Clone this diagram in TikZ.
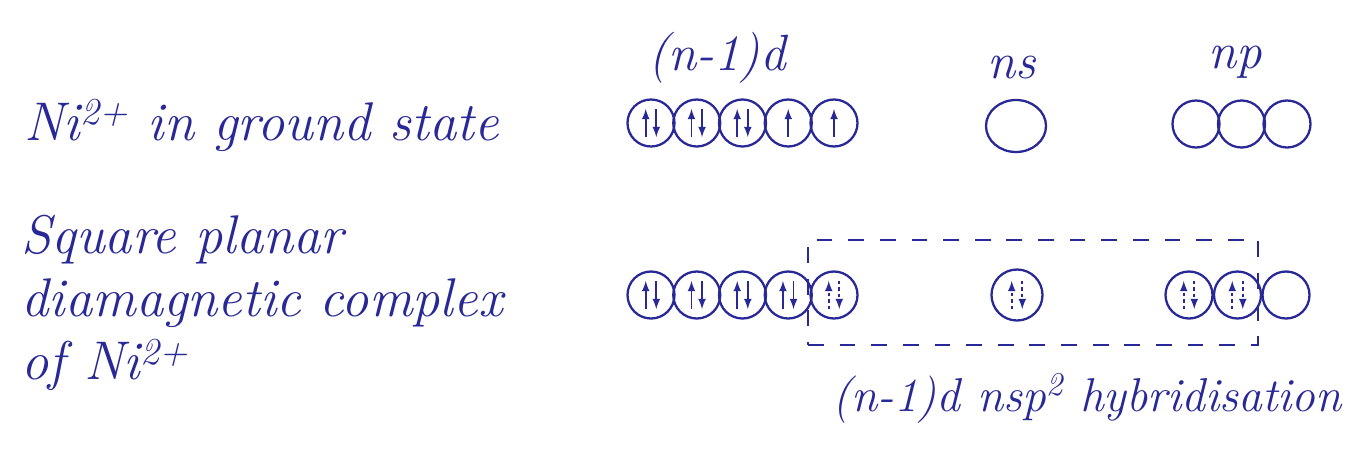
\documentclass[tikz,border=0pt]{standalone}
\usetikzlibrary{positioning,shapes.geometric}
\definecolor{ink}{RGB}{40,40,150}
\begin{document}
\begin{tikzpicture}[>=latex, line width=1pt, draw=ink,
  every node/.style={font=\fontsize{29}{34}\selectfont\itshape, text=ink},
  side/.style={font=\fontsize{31}{36}\selectfont\itshape},
  orb/.style={draw=ink, line width=1.3pt, circle, minimum size=0.94cm, inner sep=0pt},
  sorb/.style={orb, ellipse, minimum width=1.2cm, minimum height=1.04cm},
  lig/.style={dash pattern=on 2pt off 1.6pt}]
  \useasboundingbox (0,0) rectangle (27.14,9.14);
  % Ni2+ ground state
  \node[side, anchor=base west] (gs) at (0.35,6.34) {Ni\textsuperscript{2+} in ground state};
  \node (dlab) at (14.34,7.98) {(n-1)d};
  \node (slab) at (20.24,7.78) {ns};
  \node (plab) at (24.7,7.9) {np};
  \foreach \i in {1,...,5}
    \node[orb] (g\i) at ({12.105+0.915*\i},6.68) {};
  \node[sorb] (gs1) at (20.32,6.62) {};
  \foreach \i in {1,2,3}
    \node[orb] (gp\i) at ({23.01+0.91*\i},6.66) {};
  % electrons, ground state
  \foreach \i in {1,2,3} {
    \draw[->] ([xshift=-3pt,yshift=-8pt]g\i.center) -- ++(0,16pt);
    \draw[->] ([xshift=3pt,yshift=8pt]g\i.center) -- ++(0,-16pt);
  }
  \foreach \i in {4,5}
    \draw[->] ([yshift=-8pt]g\i.center) -- ++(0,16pt);
  % square planar complex
  \node[side, anchor=west, align=left] (sq) at (0.3,3.08) {Square planar\\diamagnetic complex\\of Ni\textsuperscript{2+}};
  \foreach \i in {1,...,5}
    \node[orb] (c\i) at ({12.105+0.915*\i},3.24) {};
  \node[orb, minimum size=1.02cm] (cs1) at (20.34,3.24) {};
  \foreach \i in {1,2,3}
    \node[orb] (cp\i) at ({22.81+0.97*\i},3.24) {};
  % own electrons
  \foreach \i in {1,...,4} {
    \draw[->] ([xshift=-3pt,yshift=-8pt]c\i.center) -- ++(0,16pt);
    \draw[->] ([xshift=3pt,yshift=8pt]c\i.center) -- ++(0,-16pt);
  }
  % ligand electrons
  \foreach \o in {c5,cs1,cp1,cp2} {
    \draw[->, lig] ([xshift=-3pt,yshift=-8pt]\o.center) -- ++(0,16pt);
    \draw[->, lig] ([xshift=3pt,yshift=8pt]\o.center) -- ++(0,-16pt);
  }
  % hybrid box
  \node[draw=ink, line width=1pt, dash pattern=on 9pt off 9pt, minimum width=9cm, minimum height=2.1cm] (hyb) at (20.66,3.29) {};
  \node[font=\fontsize{27}{32}\selectfont\itshape] (hyblab) at (21.74,1.18) {(n-1)d nsp\textsuperscript{2} hybridisation};
\end{tikzpicture}
\end{document}
